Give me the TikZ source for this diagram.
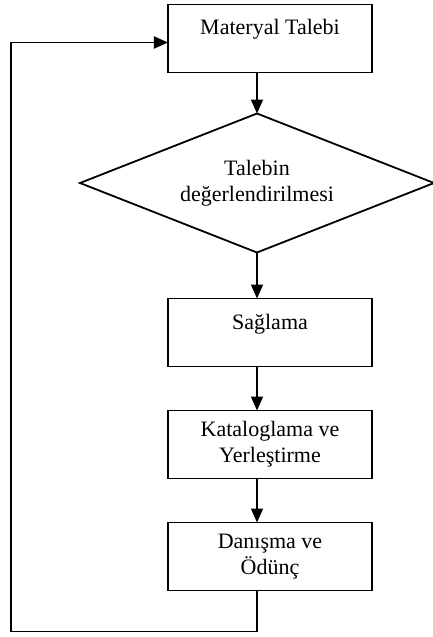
\documentclass[tikz,border=0pt]{standalone}
\usepackage{fontspec}
\setmainfont{Liberation Serif}
\usepackage{tikz}
\usetikzlibrary{shapes.geometric, arrows.meta, positioning}
\tikzstyle{box} = [rectangle, draw=black, line width=1.8pt,
    minimum width=204pt, minimum height=68pt, outer sep=0pt,
    align=center, inner sep=2pt]
\tikzstyle{onebox} = [box, text height=15pt, text depth=22pt]
\tikzstyle{decision} = [diamond, draw=black, line width=1.8pt,
    minimum width=354pt, minimum height=139pt, aspect=2.5,
    outer sep=0pt, align=center, inner sep=0pt]
\tikzstyle{arrow} = [-{Triangle[length=14pt, width=12pt]}, line width=1.8pt]

\begin{document}
\begin{tikzpicture}[node distance=44pt,
    every node/.style={font=\fontsize{22pt}{26pt}\selectfont}]
  % frame of the page
  \useasboundingbox (-270pt,38.5pt) rectangle ++(432pt,-637pt);

  \node[onebox] (talep) at (0,0) {Materyal Talebi};
  \node[decision, below=41pt of talep, xshift=-13pt] (deger) {Talebin\\değerlendirilmesi};
  \node[onebox, below=46pt of deger, xshift=13pt] (sagla) {Sağlama};
  \node[box, below=of sagla] (katalog) {Kataloglama ve\\Yerleştirme};
  \node[box, below=of katalog] (danis) {Danışma ve\\Ödünç};

  \draw[arrow] (talep.south -| deger.north) -- (deger.north);
  \draw[arrow] (deger.south) -- (deger.south |- sagla.north);
  \draw[arrow] (sagla.south -| deger.south) -- (deger.south |- katalog.north);
  \draw[arrow] (katalog.south -| deger.south) -- (deger.south |- danis.north);
  % back to the request
  \coordinate (geri) at ([xshift=-157pt, yshift=-4pt]talep.west);
  \draw[arrow] (danis.south -| deger.south) -- ++(0,-41pt) -| (geri)
    -- ([yshift=-4pt]talep.west);
\end{tikzpicture}
\end{document}
